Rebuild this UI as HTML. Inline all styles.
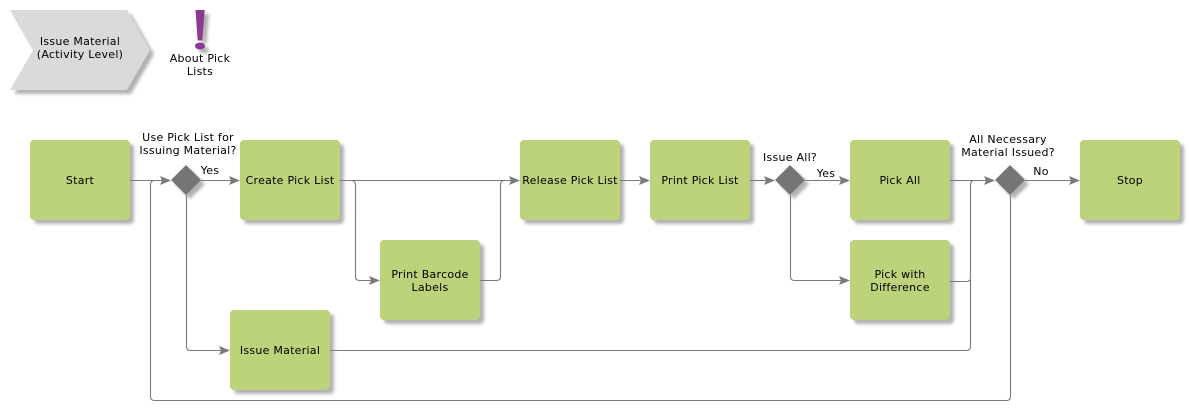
<!DOCTYPE html>
<html>
<head>
<meta charset="utf-8">
<style>
html,body{margin:0;padding:0;background:#fff;width:1190px;height:410px;overflow:hidden}
svg{display:block}
text{font-family:"DejaVu Sans","Liberation Sans",sans-serif;font-size:11px;letter-spacing:.26px;fill:#000;text-anchor:middle}
.l{fill:none;stroke:#7a7a7a;stroke-width:1.1}
.b{fill:#bcd27b}
.s{fill:#000;opacity:.3;filter:url(#bl)}
</style>
</head>
<body>
<svg width="1190" height="410" viewBox="0 0 1190 410" xmlns="http://www.w3.org/2000/svg">
<defs>
<filter id="bl" x="-20%" y="-20%" width="140%" height="140%"><feGaussianBlur stdDeviation="1.6"/></filter>
<path id="a" d="M0 0L-11 -4.500L-9 0L-11 4.500Z" fill="#7a7a7a"/>
<rect id="r" width="100" height="80" rx="4" ry="4"/>
</defs>

<!-- shadows -->
<polygon class="s" points="14,14 131,14 154,54 131,94 14,94 37,54"/>
<use href="#r" class="s" x="34" y="144"/>
<use href="#r" class="s" x="244" y="144"/>
<use href="#r" class="s" x="384" y="244"/>
<use href="#r" class="s" x="234" y="314"/>
<use href="#r" class="s" x="524" y="144"/>
<use href="#r" class="s" x="654" y="144"/>
<use href="#r" class="s" x="854" y="144"/>
<use href="#r" class="s" x="854" y="244"/>
<use href="#r" class="s" x="1084" y="144"/>
<polygon class="s" points="190,169 205,184 190,199 175,184"/>
<polygon class="s" points="794,169 809,184 794,199 779,184"/>
<polygon class="s" points="1014,169 1029,184 1014,199 999,184"/>
<path class="s" d="M200 14H209L206.500 44H202ZM204 46.500a5 3.500 0 1 0 .01 0Z" opacity=".2"/>

<!-- connectors -->
<g>
<path class="l" d="M130 180.500H162"/>
<path class="l" d="M1010.500 195V396.500Q1010.500 400.500 1006.500 400.500H154.500Q150.500 400.500 150.500 396.500V184.500Q150.500 180.500 154.500 180.500H162"/>
<path class="l" d="M186.500 195V346.500Q186.500 350.500 190.500 350.500H222"/>
<path class="l" d="M201 180.500H232"/>
<path class="l" d="M340 180.500H512"/>
<path class="l" d="M351 180.500Q355.500 180.500 355.500 185V276.500Q355.500 280.500 359.500 280.500H372"/>
<path class="l" d="M480 280.500H496.500Q500.500 280.500 500.500 276.500V184.500Q500.500 180.500 504.500 180.500H512"/>
<path class="l" d="M620 180.500H642"/>
<path class="l" d="M750 180.500H767"/>
<path class="l" d="M805 180.500H842"/>
<path class="l" d="M790.500 195V276.500Q790.500 280.500 794.500 280.500H842"/>
<path class="l" d="M950 180.500H987"/>
<path class="l" d="M950 281.500H966.500Q970.500 281.500 970.500 277.500V184.500Q970.500 180.500 974.500 180.500H987"/>
<path class="l" d="M330 350.500H966.500Q970.500 350.500 970.500 346.500V280"/>
<path class="l" d="M1025 180.500H1072"/>
</g>
<use href="#a" x="171" y="180.500"/>
<use href="#a" x="240" y="180.500"/>
<use href="#a" x="230" y="350.500"/>
<use href="#a" x="380" y="280.500"/>
<use href="#a" x="520" y="180.500"/>
<use href="#a" x="650" y="180.500"/>
<use href="#a" x="775" y="180.500"/>
<use href="#a" x="850" y="180.500"/>
<use href="#a" x="850" y="280.500"/>
<use href="#a" x="995" y="180.500"/>
<use href="#a" x="1080" y="180.500"/>

<!-- shapes -->
<polygon points="10,10 127,10 150,50 127,90 10,90 33,50" fill="#d9dadc"/>
<path d="M195.500 10H204.700L202.300 40.500H197.700Z" fill="#8b3a8f"/>
<ellipse cx="200" cy="46" rx="5" ry="3.500" fill="#8b3a8f"/>

<use href="#r" class="b" x="30" y="140"/>
<use href="#r" class="b" x="240" y="140"/>
<use href="#r" class="b" x="380" y="240"/>
<use href="#r" class="b" x="230" y="310"/>
<use href="#r" class="b" x="520" y="140"/>
<use href="#r" class="b" x="650" y="140"/>
<use href="#r" class="b" x="850" y="140"/>
<use href="#r" class="b" x="850" y="240"/>
<use href="#r" class="b" x="1080" y="140"/>

<polygon points="186,165 201,180 186,195 171,180" fill="#757575"/>
<polygon points="790,165 805,180 790,195 775,180" fill="#757575"/>
<polygon points="1010,165 1025,180 1010,195 995,180" fill="#757575"/>

<!-- labels -->
<text x="80" y="45">Issue Material</text>
<text x="80" y="58">(Activity Level)</text>
<text x="200" y="62">About Pick</text>
<text x="200" y="75">Lists</text>
<text x="80" y="184">Start</text>
<text x="188" y="141">Use Pick List for</text>
<text x="188" y="154">Issuing Material?</text>
<text x="210" y="174">Yes</text>
<text x="290" y="184">Create Pick List</text>
<text x="430" y="278">Print Barcode</text>
<text x="430" y="291">Labels</text>
<text x="280" y="354">Issue Material</text>
<text x="570" y="184">Release Pick List</text>
<text x="700" y="184">Print Pick List</text>
<text x="790" y="161">Issue All?</text>
<text x="826" y="177">Yes</text>
<text x="900" y="184">Pick All</text>
<text x="900" y="278">Pick with</text>
<text x="900" y="291">Difference</text>
<text x="1008" y="143">All Necessary</text>
<text x="1008" y="156">Material Issued?</text>
<text x="1041" y="175">No</text>
<text x="1130" y="184">Stop</text>
</svg>
</body>
</html>
